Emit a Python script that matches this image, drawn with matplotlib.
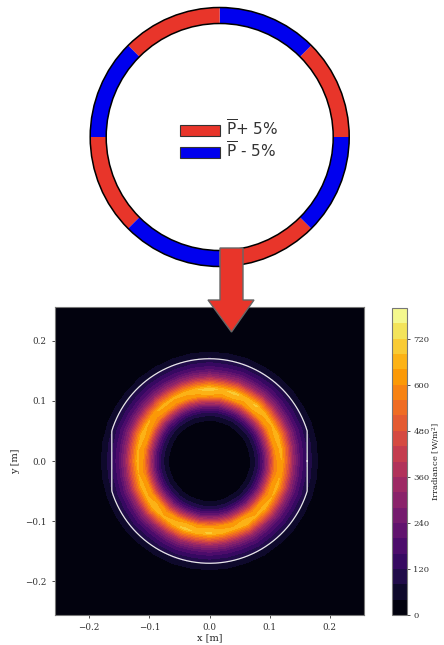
import numpy as np
import matplotlib
matplotlib.use('Agg')
import matplotlib.pyplot as plt
from matplotlib.patches import Wedge, Circle, Polygon, Patch

plt.rcParams['font.family'] = 'DejaVu Serif'
plt.rcParams['mathtext.fontset'] = 'dejavuserif'

# ring of heliostat segments: start angle (deg, ccw from east) and power change
seg_start = [0, 45, 90, 135, 180, 225, 270, 315]
seg_sign = ['+', '-', '+', '-', '+', '-', '+', '-']
seg_colors = {'+': '#e8352a', '-': '#0000ee'}
legend_labels = [r'$\overline{\mathsf{P}}$+ 5%', r'$\overline{\mathsf{P}}$ - 5%']

# irradiance map: radial profile [W/m2] and angular brightness factor
r_vals = [0.00, 0.04, 0.05, 0.06, 0.07, 0.08, 0.09, 0.10, 0.11, 0.12, 0.13,
          0.14, 0.15, 0.16, 0.17, 0.18, 0.19, 0.20, 0.25, 0.30, 0.37]
irr_vals = [5, 5, 8, 18, 45, 100, 210, 390, 590, 645, 490,
            315, 200, 128, 80, 40, 14, 4, 0, 0, 0]
ang_deg = [0, 10, 20, 30, 40, 50, 60, 70, 80, 90, 100, 110, 120, 130, 140, 150, 160, 170, 180,
           190, 200, 210, 220, 230, 240, 250, 260, 270, 280, 290, 300, 310, 320, 330, 340, 350, 360]
ang_factor = [0.99, 1.01, 1.03, 1.00, 1.02, 1.06, 1.03, 1.07, 1.04, 1.08, 1.05, 1.02, 1.00,
              1.01, 0.98, 1.00, 1.03, 1.00, 1.01, 0.99, 1.02, 1.01, 1.05, 1.00, 1.03, 1.07,
              1.04, 1.06, 1.03, 1.01, 1.05, 1.00, 1.02, 0.99, 1.01, 0.98, 0.99]
levels = np.arange(0, 801, 40)
cbar_ticks = [0, 120, 240, 360, 480, 600, 720]
xy_ticks = [-0.2, -0.1, 0.0, 0.1, 0.2]

# receiver outline
rec_r = 0.17
rec_flat = 0.1625

fig = plt.figure(figsize=(4.44, 6.45), dpi=100)

# ---- irradiance map
ax = fig.add_axes([55/444, 1-615/645, 309/444, 308/645])
R, T = np.meshgrid(np.array(r_vals), np.radians(ang_deg), indexing='ij')
X = R*np.cos(T)
Y = R*np.sin(T)
Z = np.outer(irr_vals, ang_factor)
cs = ax.contourf(X, Y, Z, levels=levels, cmap='inferno')

th = np.linspace(0, 2*np.pi, 400)
ax.plot(np.clip(rec_r*np.cos(th), -rec_flat, rec_flat), rec_r*np.sin(th), color='#e8e8e8', lw=0.9)

ax.set_xlim(-0.257, 0.257)
ax.set_ylim(-0.256, 0.256)
ax.set_xticks(xy_ticks)
ax.set_yticks(xy_ticks)
ax.tick_params(labelsize=6.3, length=2.5, width=0.6, colors='#333333')
ax.set_xlabel('x [m]', fontsize=7, labelpad=1, color='#222222')
ax.set_ylabel('y [m]', fontsize=7, labelpad=4, color='#222222')
for s in ax.spines.values():
    s.set_color('#777777')

cax = fig.add_axes([392/444, 1-615/645, 15/444, 307/645])
cbar = fig.colorbar(cs, cax=cax, ticks=cbar_ticks)
cbar.ax.tick_params(labelsize=6.1, length=2.5, width=0.6, pad=2, colors='#333333')
cbar.set_label('Irradiance [W/m$^2$]', fontsize=6.1, color='#222222')
cbar.ax.yaxis.set_label_coords((430.5 - 392) / 15, 0.5)
cbar.outline.set_edgecolor('#777777')

# ---- ring diagram and arrow (drawn in pixel coordinates)
top = fig.add_axes([0, 0, 1, 1], zorder=5)
top.set_xlim(0, 444)
top.set_ylim(645, 0)
top.axis('off')
top.patch.set_alpha(0)

cx, cy, Rr, w = 219.7, 137, 129.5, 16
for a, sgn in zip(seg_start, seg_sign):
    top.add_patch(Wedge((cx, cy), Rr, -(a+45), -a, width=w, color=seg_colors[sgn], lw=0))
top.add_patch(Circle((cx, cy), Rr, fill=False, ec='black', lw=1.1))
top.add_patch(Circle((cx, cy), Rr-w, fill=False, ec='black', lw=1.1))

arrow = [(220, 248), (243, 248), (243, 300), (254, 300), (231.5, 332), (208, 300), (220, 300)]
top.add_patch(Polygon(arrow, closed=True, fc='#e8352a', ec='#666666', lw=1))

handles = [Patch(fc=seg_colors['+'], ec='#333333', lw=0.8),
           Patch(fc=seg_colors['-'], ec='#333333', lw=0.8)]
leg = top.legend(handles, legend_labels, loc='center', bbox_to_anchor=(229, 140),
                 bbox_transform=top.transData, frameon=False,
                 handlelength=2.6, handleheight=0.72, handletextpad=0.4, labelspacing=0.12,
                 prop={'family': 'DejaVu Sans', 'size': 11})
for t in leg.get_texts():
    t.set_color('#333333')
    t.set_math_fontfamily('dejavusans')

fig.savefig('out.png', dpi=100)
